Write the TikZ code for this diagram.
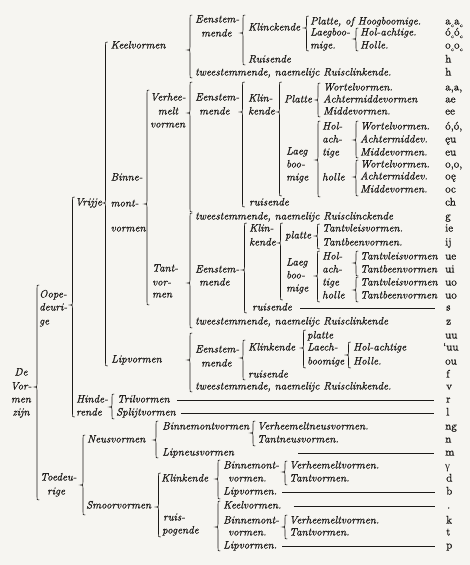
\documentclass[tikz,border=0pt]{standalone}
\usepackage{fontspec}
\setmainfont{Latin Modern Roman}[FakeBold=0.6]
\newfontfamily\grkfont{Liberation Serif}
\definecolor{paper}{RGB}{246,245,241}
\definecolor{ink}{RGB}{28,26,24}
\newcommand{\hk}{\raisebox{-0.55ex}{\fontsize{5.5}{6}\selectfont c}}
\newcommand{\mybrace}[4]{%
  \draw[brc] ({#1+2.2},{#2}) .. controls ({#1},{#2}) .. ({#1},{#2+3}) -- ({#1},{#3-3}) .. controls ({#1},{#3}) .. ({#1-2.6},{#3}) .. controls ({#1},{#3}) .. ({#1},{#3+3}) -- ({#1},{#4-3}) .. controls ({#1},{#4}) .. ({#1+2.2},{#4});}
\tikzset{
  lbl/.style={anchor=west, inner sep=0pt, text height=7.5pt, text depth=2.5pt, text=ink, font=\fontsize{10.8}{12}\selectfont\itshape},
  lblc/.style={lbl, anchor=center},
  ltr/.style={anchor=west, inner sep=0pt, text height=7.5pt, text depth=2.5pt, text=ink, font=\fontsize{11}{12}\selectfont},
  brc/.style={draw=ink, line width=0.6pt},
  rul/.style={draw=ink, line width=0.55pt}
}
\begin{document}
\begin{tikzpicture}[x=1pt,y=-1pt]
\fill[paper] (0,0) rectangle (470,565);
\useasboundingbox (0,0) rectangle (470,565);

% ---------- root levels
\node[lblc] (de1) at (21,373) {De};
\node[lblc] (de2) at (21,387) {Vor-};
\node[lblc] (de3) at (21,400) {men};
\node[lblc] (de4) at (21,413) {zijn};
\node[lbl] (oo1) at (39,295) {Oope-};
\node[lbl] (oo2) at (39,308) {deuri-};
\node[lbl] (oo3) at (39,322) {ge};
\node[lbl] (vrij) at (75,203) {Vrijje};
\node[lbl] (hi1) at (76,400) {Hinde-};
\node[lbl] (hi2) at (76,413) {rende};
\node[lbl] (keel) at (110.5,46) {Keelvormen};
\node[lbl] (bi1) at (110.5,178) {Binne-};
\node[lbl] (bi2) at (110.5,204) {mont-};
\node[lbl] (bi3) at (110.5,229) {vormen};
\node[lbl] (lip) at (111,360) {Lipvormen};
\node[lbl] (tril) at (117,400) {Trilvormen};
\node[lbl] (splt) at (116,413) {Splijtvormen};
\node[lbl] (toe1) at (40,478) {Toedeu-};
\node[lbl] (toe2) at (47,492) {rige};
\node[lbl] (neus) at (87,440) {Neusvormen};
\node[lbl] (smoor) at (86,506) {Smoorvormen};

% ---------- Keelvormen
\node[lbl] (ke1) at (195,20) {Eenstem-};
\node[lbl] (ke2) at (201,34) {mende};
\node[lbl] (kk) at (248,28) {Klinckende};
\node[lbl] (kp) at (310,22) {Platte, of Hoogboomige.};
\node[lbl] (kl1) at (310,33) {Laegboo-};
\node[lbl] (kl2) at (310,46) {mige.};
\node[lbl] (kh1) at (360,33) {Hol-achtige.};
\node[lbl] (kh2) at (360,46) {Holle.};
\node[lbl] (kr) at (248,60) {Ruisende};
\node[lbl] (kt) at (195,73) {tweestemmende, naemelijc Ruisclinkende.};

% ---------- Verheemelt vormen
\node[lbl] (vh1) at (150,98) {Verhee-};
\node[lblc] (vh2) at (168,112) {melt};
\node[lbl] (vh3) at (150,125) {vormen};
\node[lbl] (ve1) at (195,98) {Eenstem-};
\node[lbl] (ve2) at (199,112) {mende};
\node[lbl] (vk1) at (248,99) {Klin-};
\node[lbl] (vk2) at (248,112) {kende};
\node[lbl] (vp) at (284,100) {Platte};
\node[lbl] (vw1) at (323,88) {Wortelvormen.};
\node[lbl] (va1) at (323,100) {Achtermiddevormen};
\node[lbl] (vm1) at (323,112) {Middevormen.};
\node[lbl] (vl1) at (286,152) {Laeg};
\node[lbl] (vl2) at (286,165) {boo-};
\node[lbl] (vl3) at (286,178) {mige};
\node[lbl] (vo1) at (322,127) {Hol-};
\node[lbl] (vo2) at (322,140) {ach-};
\node[lbl] (vo3) at (322,153) {tige};
\node[lbl] (vo4) at (322,178) {holle};
\node[lbl] (vw2) at (360,127) {Wortelvormen.};
\node[lbl] (va2) at (360,140) {Achtermiddev.};
\node[lbl] (vm2) at (360,153) {Middevormen.};
\node[lbl] (vw3) at (360,165) {Wortelvormen.};
\node[lbl] (va3) at (360,177) {Achtermiddev.};
\node[lbl] (vm3) at (360,190) {Middevormen.};
\node[lbl] (vr) at (249,203) {ruisende};
\node[lbl] (vt) at (195,217) {tweestemmende, naemelijc Ruisclinckende};

% ---------- Tantvormen
\node[lbl] (ta1) at (152,269) {Tant-};
\node[lbl] (ta2) at (152,283) {vor-};
\node[lbl] (ta3) at (152,295) {men};
\node[lbl] (te1) at (195,270) {Eenstem-};
\node[lbl] (te2) at (199,283) {mende};
\node[lbl] (tk1) at (249,229) {Klin-};
\node[lbl] (tk2) at (249,243) {kende};
\node[lbl] (tp) at (285,236) {platte};
\node[lbl] (tv1) at (322,229) {Tantvleisvormen.};
\node[lbl] (tb1) at (322,243) {Tantbeenvormen.};
\node[lbl] (tl1) at (286,263) {Laeg};
\node[lbl] (tl2) at (286,276) {boo-};
\node[lbl] (tl3) at (286,289) {mige};
\node[lbl] (to1) at (322,257) {Hol-};
\node[lbl] (to2) at (322,270) {ach-};
\node[lbl] (to3) at (322,283) {tige};
\node[lbl] (to4) at (322,296) {holle};
\node[lbl] (tv2) at (360,257) {Tantvleisvormen};
\node[lbl] (tb2) at (360,270) {Tantbeenvormen};
\node[lbl] (tv3) at (360,283) {Tantvleisvormen};
\node[lbl] (tb3) at (360,296) {Tantbeenvormen};
\node[lbl] (tr) at (252,308) {ruisende};
\node[lbl] (tt) at (195,322) {tweestemmende, naemelijc Ruisclinkende};

% ---------- Lipvormen
\node[lbl] (le1) at (195,350) {Eenstem-};
\node[lbl] (le2) at (201,364) {mende};
\node[lbl] (lk) at (248,348) {Klinkende};
\node[lbl] (lp1) at (307,336) {platte};
\node[lbl] (lp2) at (307,348) {Laech-};
\node[lbl] (lp3) at (307,362) {boomige};
\node[lbl] (lh1) at (353,348) {Hol-achtige};
\node[lbl] (lh2) at (353,362) {Holle.};
\node[lbl] (lr) at (248,375) {ruisende};
\node[lbl] (lt) at (195,387) {tweestemmende, naemelijc Ruisclinkende.};

% ---------- Toedeurige
\node[lbl] (nb) at (162,427) {Binnemontvormen};
\node[lbl] (nv) at (257,427) {Verheemeltneusvormen.};
\node[lbl] (nt) at (257,440) {Tantneusvormen.};
\node[lbl] (nl) at (162,453) {Lipneusvormen};
\node[lbl] (sk) at (161,479) {Klinkende};
\node[lbl] (sr1) at (163,518) {ruis-};
\node[lbl] (sr2) at (162,531) {pogende};
\node[lbl] (a1) at (223,466) {Binnemont-};
\node[lbl] (a2) at (228,479) {vormen.};
\node[lbl] (a3) at (289,466) {Verheemeltvormen.};
\node[lbl] (a4) at (289,479) {Tantvormen.};
\node[lbl] (a5) at (223,492) {Lipvormen.};
\node[lbl] (b0) at (223,506) {Keelvormen.};
\node[lbl] (b1) at (223,521) {Binnemont-};
\node[lbl] (b2) at (228,533) {vormen.};
\node[lbl] (b3) at (289,521) {Verheemeltvormen.};
\node[lbl] (b4) at (289,533) {Tantvormen.};
\node[lbl] (b5) at (223,546) {Lipvormen.};

% ---------- letter column
\node[ltr] (r01) at (445,22) {a\hk a\hk};
\node[ltr] (r02) at (445,33) {ó\hk ó\hk};
\node[ltr] (r03) at (445,46) {o\hk o\hk};
\node[ltr] (r04) at (445,60) {h};
\node[ltr] (r05) at (445,73) {h};
\node[ltr] (r06) at (445,88) {a,a,};
\node[ltr] (r07) at (445,100) {ae};
\node[ltr] (r08) at (445,112) {ee};
\node[ltr] (r09) at (445,127) {ó,ó,};
\node[ltr] (r10) at (445,140) {ęu};
\node[ltr] (r11) at (445,153) {eu};
\node[ltr] (r12) at (445,165) {o,o,};
\node[ltr] (r13) at (445,177) {oę};
\node[ltr] (r14) at (445,190) {oc};
\node[ltr] (r15) at (445,203) {ch};
\node[ltr] (r16) at (445,217) {g};
\node[ltr] (r17) at (445,229) {ie};
\node[ltr] (r18) at (445,243) {ij};
\node[ltr] (r19) at (445,257) {ue};
\node[ltr] (r20) at (445,270) {ui};
\node[ltr] (r21) at (445,283) {uo};
\node[ltr] (r22) at (445,296) {uo};
\node[ltr] (r23) at (446,308) {s};
\node[ltr] (r24) at (446,322) {z};
\node[ltr] (r25) at (445,336) {uu};
\node[ltr] (r26) at (443,348) {‘uu};
\node[ltr] (r27) at (445,362) {ou};
\node[ltr] (r28) at (446,375) {f};
\node[ltr] (r29) at (446,387) {v};
\node[ltr] (r30) at (446,400) {r};
\node[ltr] (r31) at (446,413) {l};
\node[ltr] (r32) at (445,427) {ng};
\node[ltr] (r33) at (445,440) {n};
\node[ltr] (r34) at (445,453) {m};
\node[ltr] (r35) at (445,467) {\grkfont γ};
\node[ltr] (r36) at (446,479) {d};
\node[ltr] (r37) at (446,492) {b};
\node[ltr] (r38) at (447,506) {.};
\node[ltr] (r39) at (446,521) {k};
\node[ltr] (r40) at (446,533) {t};
\node[ltr] (r41) at (446,546) {p};

% ---------- rules
\coordinate (cneus) at (298,453);
\draw[rul] ([xshift=8pt]tr.east) -- ([xshift=-11pt]r23.west);
\draw[rul] ([xshift=7pt]tril.east) -- ([xshift=-12pt]r30.west);
\draw[rul] ([xshift=5pt]splt.east) -- ([xshift=-12pt]r31.west);
\draw[rul] (cneus) -- ([xshift=-11pt]r34.west);
\draw[rul] ([xshift=5pt]a5.east) -- ([xshift=-11pt]r37.west);
\draw[rul] ([xshift=12pt]b0.east) -- ([xshift=-12pt]r38.west);
\draw[rul] ([xshift=5pt]b5.east) -- ([xshift=-11pt]r41.west);

% ---------- braces {x}{top}{tip}{bottom}
\mybrace{37}{285}{387}{500}
\mybrace{72.5}{197}{305}{417}
\mybrace{105.5}{42}{203}{366}
% Keel
\mybrace{190}{15}{50}{78}
\mybrace{243}{15}{33}{65}
\mybrace{306.5}{16}{28}{51}
\mybrace{356}{28}{39}{51}
% Binnemont
\mybrace{147}{90}{204}{305}
\mybrace{190}{82}{113}{212}
\mybrace{242.5}{82}{112}{207}
\mybrace{279.5}{82}{112}{196}
\mybrace{318}{83}{100}{117}
\mybrace{318}{121}{160}{197}
\mybrace{356}{121}{140}{158}
\mybrace{356}{160}{177}{196}
% Tant
\mybrace{190}{213}{283}{328}
\mybrace{244.5}{223}{270}{313}
\mybrace{280.5}{223}{243}{300}
\mybrace{317.5}{224}{236}{249}
\mybrace{317.5}{251}{276}{302}
\mybrace{356}{251}{263}{276}
\mybrace{356}{277}{290}{302}
% Lip
\mybrace{190}{333}{360}{392}
\mybrace{243}{340}{358}{380}
\mybrace{303.5}{330}{348}{368}
\mybrace{348.5}{342}{355}{368}
% Hinderende
\mybrace{112}{394}{407}{419}
% Toedeurige
\mybrace{83}{435}{485}{515}
\mybrace{156}{421}{440}{458}
\mybrace{253}{421}{433}{446}
\mybrace{158.5}{473}{507}{537}
\mybrace{218}{460}{479}{499}
\mybrace{285}{461}{472}{485}
\mybrace{218}{501}{527}{551}
\mybrace{285}{515}{527}{539}
\end{tikzpicture}
\end{document}
